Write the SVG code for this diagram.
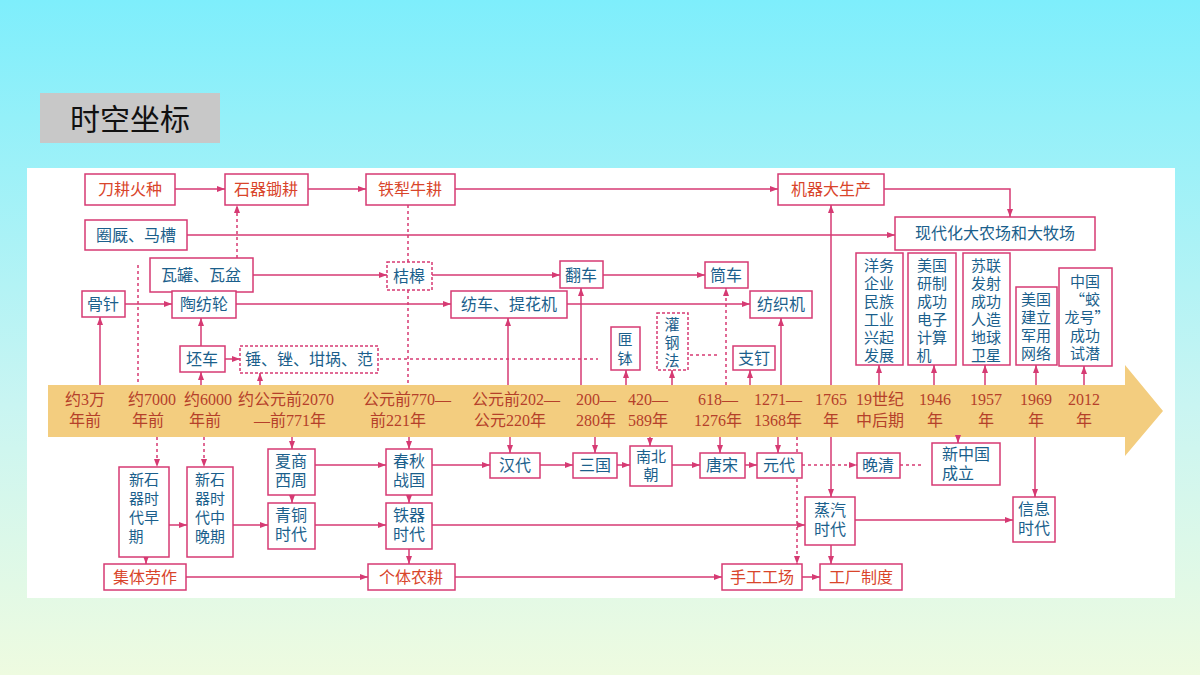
<svg xmlns="http://www.w3.org/2000/svg" width="1200" height="675" viewBox="0 0 1200 675">
<defs>
<linearGradient id="bg" x1="0" y1="0" x2="0" y2="1"><stop offset="0" stop-color="#7eeefc"/><stop offset="0.6" stop-color="#c9f5f2"/><stop offset="1" stop-color="#eefbe0"/></linearGradient>
<marker id="a" viewBox="0 0 8 6" refX="8" refY="3" markerWidth="8" markerHeight="6" markerUnits="userSpaceOnUse" orient="auto"><path d="M0,0L8,3L0,6z" fill="#d63a73"/></marker>
<style>
.b{fill:#fff;stroke:#d63a73;stroke-width:1.5}
.d{fill:#fff;stroke:#d63a73;stroke-width:1.5;stroke-dasharray:3 2}
.tb{font-family:"Noto Sans CJK SC",sans-serif;font-size:16px;fill:#1b5f8c;text-anchor:middle}
.v{font-size:15px}
.tr{font-family:"Noto Sans CJK SC",sans-serif;font-size:16px;fill:#d9452b;text-anchor:middle}
.tl{font-family:"Liberation Serif","Noto Sans CJK SC",serif;font-size:16px;fill:#b5402a;text-anchor:middle}
#connectors line,#connectors path{stroke:#d63a73;stroke-width:1.5;fill:none}
#connectors .ds{stroke-dasharray:3 3}
</style>
</defs>
<rect width="1200" height="675" fill="url(#bg)"/>
<rect x="40" y="93" width="180" height="50" fill="#c8c8c8"/>
<text x="130" y="130" style="font-family:'Noto Sans CJK SC',sans-serif;font-size:30px;text-anchor:middle" fill="#111">时空坐标</text>
<rect x="27" y="168" width="1148" height="430" fill="#fff"/>
<path d="M48,385H1125V365L1163,411L1125,456V437H48z" fill="#f3cd7f"/>
<g id="timeline">
<text class="tl" x="85" y="405">约3万<tspan x="85" dy="21">年前</tspan></text>
<text class="tl" x="152" y="405">约7000<tspan x="148" dy="21">年前</tspan></text>
<text class="tl" x="208" y="405">约6000<tspan x="205" dy="21">年前</tspan></text>
<text class="tl" x="286" y="405">约公元前2070<tspan x="290" dy="21">—前771年</tspan></text>
<text class="tl" x="407" y="405">公元前770—<tspan x="398" dy="21">前221年</tspan></text>
<text class="tl" x="516" y="405">公元前202—<tspan x="510" dy="21">公元220年</tspan></text>
<text class="tl" x="596" y="405">200—<tspan x="596" dy="21">280年</tspan></text>
<text class="tl" x="648" y="405">420—<tspan x="648" dy="21">589年</tspan></text>
<text class="tl" x="718" y="405">618—<tspan x="718" dy="21">1276年</tspan></text>
<text class="tl" x="778" y="405">1271—<tspan x="778" dy="21">1368年</tspan></text>
<text class="tl" x="831" y="405">1765<tspan x="831" dy="21">年</tspan></text>
<text class="tl" x="880" y="405">19世纪<tspan x="880" dy="21">中后期</tspan></text>
<text class="tl" x="935" y="405">1946<tspan x="935" dy="21">年</tspan></text>
<text class="tl" x="986" y="405">1957<tspan x="986" dy="21">年</tspan></text>
<text class="tl" x="1036" y="405">1969<tspan x="1036" dy="21">年</tspan></text>
<text class="tl" x="1084" y="405">2012<tspan x="1084" dy="21">年</tspan></text>
</g>
<g id="connectors">
<line x1="175" y1="189" x2="225" y2="189" marker-end="url(#a)"/>
<line x1="308" y1="189" x2="366" y2="189" marker-end="url(#a)"/>
<line x1="455" y1="189" x2="778" y2="189" marker-end="url(#a)"/>
<path d="M884,189H1010V217" marker-end="url(#a)"/>
<line x1="187" y1="235" x2="895" y2="235" marker-end="url(#a)"/>
<line class="ds" x1="237" y1="258" x2="237" y2="205" marker-end="url(#a)"/>
<line class="ds" x1="408" y1="205" x2="408" y2="262"/>
<line class="ds" x1="408" y1="290" x2="408" y2="385"/>
<line class="ds" x1="138" y1="265" x2="138" y2="385"/>
<line x1="253" y1="275" x2="387" y2="275" marker-end="url(#a)"/>
<line x1="432" y1="275" x2="560" y2="275" marker-end="url(#a)"/>
<line x1="603" y1="275" x2="705" y2="275" marker-end="url(#a)"/>
<line x1="100" y1="385" x2="100" y2="317" marker-end="url(#a)"/>
<line x1="125" y1="304" x2="172" y2="304" marker-end="url(#a)"/>
<line x1="236" y1="304" x2="451" y2="304" marker-end="url(#a)"/>
<line x1="567" y1="304" x2="750" y2="304" marker-end="url(#a)"/>
<line x1="508" y1="385" x2="508" y2="318" marker-end="url(#a)"/>
<line x1="581" y1="385" x2="581" y2="288" marker-end="url(#a)"/>
<line x1="201" y1="346" x2="201" y2="318" marker-end="url(#a)"/>
<line x1="201" y1="385" x2="201" y2="372" marker-end="url(#a)"/>
<line x1="225" y1="359" x2="240" y2="359" marker-end="url(#a)"/>
<line x1="260" y1="385" x2="260" y2="373" marker-end="url(#a)"/>
<line class="ds" x1="380" y1="359" x2="598" y2="359"/>
<line x1="626" y1="385" x2="626" y2="370" marker-end="url(#a)"/>
<line x1="672" y1="385" x2="672" y2="370" marker-end="url(#a)"/>
<line class="ds" x1="690" y1="355" x2="718" y2="355"/>
<line class="ds" x1="726" y1="385" x2="726" y2="288" marker-end="url(#a)"/>
<line x1="750" y1="385" x2="750" y2="370" marker-end="url(#a)"/>
<line x1="781" y1="385" x2="781" y2="318" marker-end="url(#a)"/>
<line x1="831" y1="385" x2="831" y2="205" marker-end="url(#a)"/>
<line x1="879" y1="385" x2="879" y2="365" marker-end="url(#a)"/>
<line x1="934" y1="385" x2="934" y2="365" marker-end="url(#a)"/>
<line x1="985" y1="385" x2="985" y2="365" marker-end="url(#a)"/>
<line x1="1036" y1="385" x2="1036" y2="365" marker-end="url(#a)"/>
<line x1="1084" y1="385" x2="1084" y2="366" marker-end="url(#a)"/>
<line class="ds" x1="157" y1="437" x2="157" y2="467" marker-end="url(#a)"/>
<line class="ds" x1="204" y1="437" x2="204" y2="467" marker-end="url(#a)"/>
<line x1="169" y1="525" x2="187" y2="525" marker-end="url(#a)"/>
<line x1="292" y1="437" x2="292" y2="449" marker-end="url(#a)"/>
<line x1="292" y1="495" x2="292" y2="503" marker-end="url(#a)"/>
<line x1="233" y1="525" x2="268" y2="525" marker-end="url(#a)"/>
<line x1="409" y1="437" x2="409" y2="449" marker-end="url(#a)"/>
<line x1="409" y1="495" x2="409" y2="503" marker-end="url(#a)"/>
<line x1="315" y1="465" x2="386" y2="465" marker-end="url(#a)"/>
<line x1="315" y1="525" x2="386" y2="525" marker-end="url(#a)"/>
<line x1="146" y1="557" x2="146" y2="564" marker-end="url(#a)"/>
<line x1="409" y1="549" x2="409" y2="564" marker-end="url(#a)"/>
<line x1="186" y1="577" x2="368" y2="577" marker-end="url(#a)"/>
<line x1="455" y1="577" x2="722" y2="577" marker-end="url(#a)"/>
<line x1="802" y1="577" x2="820" y2="577" marker-end="url(#a)"/>
<line x1="432" y1="465" x2="490" y2="465" marker-end="url(#a)"/>
<line x1="510" y1="437" x2="510" y2="453" marker-end="url(#a)"/>
<line x1="540" y1="465" x2="573" y2="465" marker-end="url(#a)"/>
<line x1="595" y1="437" x2="595" y2="453" marker-end="url(#a)"/>
<line x1="617" y1="465" x2="630" y2="465" marker-end="url(#a)"/>
<line x1="650" y1="437" x2="650" y2="446" marker-end="url(#a)"/>
<line x1="672" y1="465" x2="700" y2="465" marker-end="url(#a)"/>
<line x1="720" y1="437" x2="720" y2="453" marker-end="url(#a)"/>
<line x1="745" y1="465" x2="757" y2="465" marker-end="url(#a)"/>
<line x1="778" y1="437" x2="778" y2="453" marker-end="url(#a)"/>
<line class="ds" x1="802" y1="465" x2="857" y2="465" marker-end="url(#a)"/>
<line class="ds" x1="900" y1="465" x2="924" y2="465"/>
<line x1="958" y1="437" x2="958" y2="443" marker-end="url(#a)"/>
<line class="ds" x1="797" y1="437" x2="797" y2="564" marker-end="url(#a)"/>
<line x1="831" y1="437" x2="831" y2="497" marker-end="url(#a)"/>
<line x1="432" y1="525" x2="805" y2="525" marker-end="url(#a)"/>
<line x1="831" y1="545" x2="831" y2="564" marker-end="url(#a)"/>
<line x1="855" y1="520" x2="1013" y2="520" marker-end="url(#a)"/>
<line x1="1035" y1="437" x2="1035" y2="497" marker-end="url(#a)"/>
</g>
<g id="n1"><rect class="b" x="85" y="174" width="90" height="31"/><text class="tr" x="130" y="195">刀耕火种</text></g>
<g id="n2"><rect class="b" x="225" y="174" width="83" height="31"/><text class="tr" x="266" y="195">石器锄耕</text></g>
<g id="n3"><rect class="b" x="366" y="174" width="89" height="31"/><text class="tr" x="410" y="195">铁犁牛耕</text></g>
<g id="n4"><rect class="b" x="778" y="174" width="106" height="31"/><text class="tr" x="831" y="195">机器大生产</text></g>
<g id="n5"><rect class="b" x="85" y="220" width="102" height="30"/><text class="tb" x="136" y="241">圈厩、马槽</text></g>
<g id="n6"><rect class="b" x="895" y="217" width="200" height="33"/><text class="tb" x="995" y="239">现代化大农场和大牧场</text></g>
<g id="n7"><rect class="b" x="150" y="258" width="103" height="34"/><text class="tb" x="201" y="281">瓦罐、瓦盆</text></g>
<g id="n8"><rect class="d" x="387" y="262" width="45" height="28"/><text class="tb" x="409" y="282">桔槔</text></g>
<g id="n9"><rect class="b" x="560" y="261" width="43" height="27"/><text class="tb" x="581" y="281">翻车</text></g>
<g id="n10"><rect class="b" x="705" y="262" width="43" height="26"/><text class="tb" x="726" y="281">筒车</text></g>
<g id="n11"><rect class="b" x="82" y="291" width="43" height="26"/><text class="tb" x="103" y="310">骨针</text></g>
<g id="n12"><rect class="b" x="172" y="291" width="64" height="27"/><text class="tb" x="204" y="310">陶纺轮</text></g>
<g id="n13"><rect class="b" x="451" y="291" width="116" height="27"/><text class="tb" x="509" y="310">纺车、提花机</text></g>
<g id="n14"><rect class="b" x="750" y="291" width="62" height="27"/><text class="tb" x="781" y="310">纺织机</text></g>
<g id="n15"><rect class="b" x="180" y="346" width="45" height="26"/><text class="tb" x="202" y="365">坯车</text></g>
<g id="n16"><rect class="d" x="240" y="346" width="138" height="27"/><text class="tb" x="309" y="365">锤、锉、坩埚、范</text></g>
<g id="n17"><rect class="b" x="611" y="327" width="29" height="43"/><text class="tb v" x="625" y="345">匣<tspan x="625" dy="19">钵</tspan></text></g>
<g id="n18"><rect class="d" x="657" y="313" width="31" height="57"/><text class="tb v" x="672" y="330">灌<tspan x="672" dy="18">钢</tspan><tspan x="672" dy="18">法</tspan></text></g>
<g id="n19"><rect class="b" x="733" y="346" width="42" height="24"/><text class="tb" x="754" y="364">支钉</text></g>
<g id="n20"><rect class="b" x="856" y="253" width="47" height="112"/><text class="tb v" x="879" y="271">洋务<tspan x="879" dy="18">企业</tspan><tspan x="879" dy="18">民族</tspan><tspan x="879" dy="18">工业</tspan><tspan x="879" dy="18">兴起</tspan><tspan x="879" dy="18">发展</tspan></text></g>
<g id="n21"><rect class="b" x="908" y="253" width="48" height="112"/><text class="tb v" x="932" y="271">美国<tspan x="932" dy="18">研制</tspan><tspan x="932" dy="18">成功</tspan><tspan x="932" dy="18">电子</tspan><tspan x="932" dy="18">计算</tspan><tspan x="924" dy="18">机</tspan></text></g>
<g id="n22"><rect class="b" x="963" y="253" width="47" height="112"/><text class="tb v" x="986" y="271">苏联<tspan x="986" dy="18">发射</tspan><tspan x="986" dy="18">成功</tspan><tspan x="986" dy="18">人造</tspan><tspan x="986" dy="18">地球</tspan><tspan x="986" dy="18">卫星</tspan></text></g>
<g id="n23"><rect class="b" x="1016" y="287" width="41" height="78"/><text class="tb v" x="1036" y="305">美国<tspan x="1036" dy="18">建立</tspan><tspan x="1036" dy="18">军用</tspan><tspan x="1036" dy="18">网络</tspan></text></g>
<g id="n24"><rect class="b" x="1059" y="268" width="53" height="98"/><text class="tb v" x="1085" y="287">中国<tspan x="1085" dy="18">“蛟</tspan><tspan x="1087" dy="18">龙号”</tspan><tspan x="1085" dy="18">成功</tspan><tspan x="1085" dy="18">试潜</tspan></text></g>
<g id="n25"><rect class="b" x="119" y="467" width="50" height="90"/><text class="tb v" x="144" y="485">新石<tspan x="144" dy="19">器时</tspan><tspan x="144" dy="19">代早</tspan><tspan x="136" dy="19">期</tspan></text></g>
<g id="n26"><rect class="b" x="187" y="467" width="46" height="90"/><text class="tb v" x="210" y="485">新石<tspan x="210" dy="19">器时</tspan><tspan x="210" dy="19">代中</tspan><tspan x="210" dy="19">晚期</tspan></text></g>
<g id="n27"><rect class="b" x="268" y="449" width="47" height="46"/><text class="tb" x="291" y="467">夏商<tspan x="291" dy="19">西周</tspan></text></g>
<g id="n28"><rect class="b" x="268" y="503" width="47" height="46"/><text class="tb" x="291" y="521">青铜<tspan x="291" dy="19">时代</tspan></text></g>
<g id="n29"><rect class="b" x="386" y="449" width="46" height="46"/><text class="tb" x="409" y="467">春秋<tspan x="409" dy="19">战国</tspan></text></g>
<g id="n30"><rect class="b" x="386" y="503" width="46" height="46"/><text class="tb" x="409" y="521">铁器<tspan x="409" dy="19">时代</tspan></text></g>
<g id="n31"><rect class="b" x="104" y="564" width="82" height="26"/><text class="tr" x="145" y="583">集体劳作</text></g>
<g id="n32"><rect class="b" x="368" y="564" width="87" height="26"/><text class="tr" x="411" y="583">个体农耕</text></g>
<g id="n33"><rect class="b" x="722" y="564" width="80" height="26"/><text class="tr" x="762" y="583">手工工场</text></g>
<g id="n34"><rect class="b" x="820" y="564" width="82" height="26"/><text class="tr" x="861" y="583">工厂制度</text></g>
<g id="n35"><rect class="b" x="490" y="453" width="50" height="25"/><text class="tb" x="515" y="471">汉代</text></g>
<g id="n36"><rect class="b" x="573" y="453" width="44" height="25"/><text class="tb" x="595" y="471">三国</text></g>
<g id="n37"><rect class="b" x="630" y="446" width="42" height="40"/><text class="tb v" x="651" y="462">南北<tspan x="651" dy="18">朝</tspan></text></g>
<g id="n38"><rect class="b" x="700" y="453" width="45" height="25"/><text class="tb" x="722" y="471">唐宋</text></g>
<g id="n39"><rect class="b" x="757" y="453" width="45" height="25"/><text class="tb" x="779" y="471">元代</text></g>
<g id="n40"><rect class="b" x="857" y="453" width="43" height="25"/><text class="tb" x="878" y="471">晚清</text></g>
<g id="n41"><rect class="b" x="932" y="443" width="68" height="42"/><text class="tb" x="966" y="460">新中国<tspan x="958" dy="19">成立</tspan></text></g>
<g id="n42"><rect class="b" x="805" y="497" width="50" height="48"/><text class="tb" x="830" y="516">蒸汽<tspan x="830" dy="19">时代</tspan></text></g>
<g id="n43"><rect class="b" x="1013" y="497" width="42" height="45"/><text class="tb" x="1034" y="515">信息<tspan x="1034" dy="19">时代</tspan></text></g>
</svg>
